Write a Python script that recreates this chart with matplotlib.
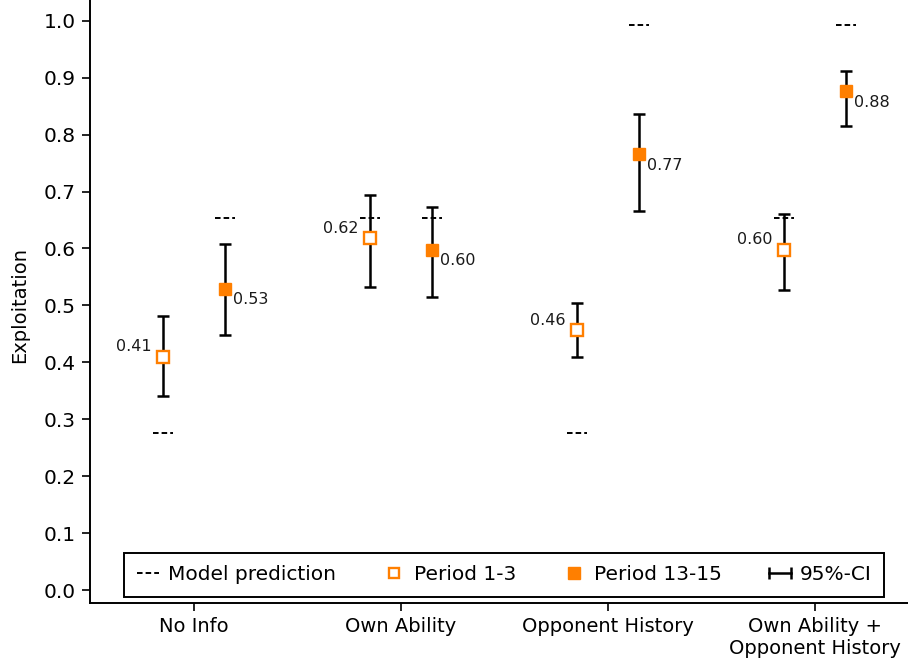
import matplotlib
import matplotlib.pyplot as plt
import numpy as np
from matplotlib.lines import Line2D
from matplotlib.legend_handler import HandlerLine2D

matplotlib.use("Agg")
matplotlib.rcParams.update(
    {
        "font.family": "DejaVu Sans",
        "font.size": 14,
        "xtick.labelsize": 14,
        "ytick.labelsize": 14.5,
        "axes.labelsize": 14,
        "lines.scale_dashes": False,
    }
)

# data
treatments = ["No Info", "Own Ability", "Opponent History", "Own Ability +\nOpponent History"]
mean_early = [0.410, 0.618, 0.457, 0.598]
ci_low_early = [0.341, 0.532, 0.409, 0.527]
ci_high_early = [0.481, 0.694, 0.505, 0.661]
mean_late = [0.529, 0.598, 0.766, 0.876]
ci_low_late = [0.448, 0.515, 0.666, 0.815]
ci_high_late = [0.608, 0.672, 0.836, 0.912]
model_early = [0.275, 0.654, 0.275, 0.654]
model_late = [0.654, 0.654, 0.993, 0.993]
yticks = [0.0, 0.1, 0.2, 0.3, 0.4, 0.5, 0.6, 0.7, 0.8, 0.9, 1.0]

ORANGE = "#ff7f00"
DASHES = (4.0, 2.2)
shift = 0.15


def draw_period(ax, x, mean, lo, hi, model, filled, label_side):
    mean = np.array(mean)
    err = np.array([mean - np.array(lo), np.array(hi) - mean])
    ax.errorbar(
        x, mean, yerr=err, fmt="none", ecolor="black",
        elinewidth=1.8, capsize=4.5, capthick=1.8, zorder=2,
    )
    if filled:
        ax.plot(x, mean, "s", color=ORANGE, markersize=9, linestyle="none", zorder=3)
    else:
        ax.plot(
            x, mean, "s", markerfacecolor="white", markeredgecolor=ORANGE,
            markeredgewidth=1.7, markersize=8, linestyle="none", zorder=3,
        )
    for xi, yi, m in zip(x, mean, model):
        ax.plot([xi - 0.05, xi + 0.05], [m, m], color="black", linewidth=1.4,
                dashes=DASHES, solid_capstyle="butt", dash_capstyle="butt", zorder=1)
        if label_side == "left":
            ax.annotate("%.2f" % yi, (xi, yi), xytext=(-8, 7), textcoords="offset points",
                        ha="right", va="center", fontsize=11.5, color="#1a1a1a")
        else:
            ax.annotate("%.2f" % yi, (xi, yi), xytext=(6, -8), textcoords="offset points",
                        ha="left", va="center", fontsize=11.5, color="#1a1a1a")


fig = plt.figure(figsize=(9.08, 6.63), dpi=100)
ax = fig.add_axes([90 / 908, 60 / 663, 818 / 908, 603 / 663])

pos = np.arange(1, len(treatments) + 1)
draw_period(ax, pos - shift, mean_early, ci_low_early, ci_high_early, model_early, False, "left")
draw_period(ax, pos + shift, mean_late, ci_low_late, ci_high_late, model_late, True, "right")

ax.set_xlim(0.4976, 4.449)
ax.set_ylim(-0.0228, 1.0364)
ax.set_xticks(pos)
ax.set_xticklabels(treatments, linespacing=1.2)
ax.set_yticks(yticks)
ax.set_yticklabels(["%.1f" % t for t in yticks])
ax.tick_params(axis="both", direction="out", length=6, width=1.2, color="black", pad=4)
ax.spines["top"].set_visible(False)
ax.spines["right"].set_visible(False)
ax.spines["left"].set_linewidth(1.4)
ax.spines["bottom"].set_linewidth(1.4)
ax.set_ylabel("Exploitation")
ax.yaxis.set_label_coords(-0.074, 0.494)

handles = [
    Line2D([], [], color="black", linewidth=1.4, dashes=DASHES, dash_capstyle="butt"),
    Line2D([], [], marker="s", markerfacecolor="white", markeredgecolor=ORANGE,
           markeredgewidth=1.7, markersize=7.5, linestyle="none"),
    Line2D([], [], marker="s", color=ORANGE, markersize=8, linestyle="none"),
    Line2D([], [], color="black", linewidth=1.8, marker="|", markersize=9, markeredgewidth=1.8),
]
labels = ["Model prediction", "Period 1-3", "Period 13-15", "95%-CI"]
leg = ax.legend(
    handles, labels, ncol=4, loc="lower center", bbox_to_anchor=(0.5067, 0.01),
    borderaxespad=0, fontsize=14.5, handlelength=1.1, handletextpad=0.45,
    columnspacing=2.32, borderpad=0.62, fancybox=False, framealpha=1,
    edgecolor="black", handler_map={handles[3]: HandlerLine2D(numpoints=2, marker_pad=0)},
)
leg.get_frame().set_linewidth(1.4)

fig.savefig("out.png", dpi=100)
